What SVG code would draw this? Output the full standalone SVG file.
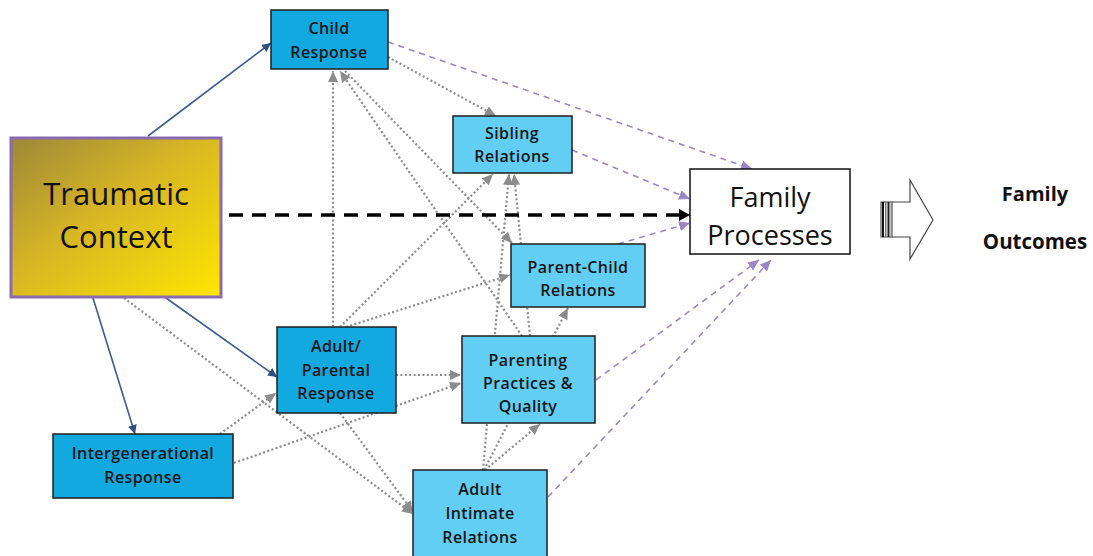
<svg xmlns="http://www.w3.org/2000/svg" width="1093" height="556" viewBox="0 0 1093 556">
<style>
.box{stroke:#1e1e1e;stroke-width:1.5}
.dark{fill:#12a8e0}
.light{fill:#62cef4}
.t{font-family:"Open Sans","Liberation Sans",sans-serif;font-size:16px;font-weight:600;letter-spacing:0.4px;fill:#151515;text-anchor:middle}
.big{font-family:"Open Sans","Liberation Sans",sans-serif;fill:#111;text-anchor:middle}
.dot{stroke:#8c8c8c;stroke-width:2.2;stroke-dasharray:2 2.4;fill:none}
.pur{stroke:#9d86c8;stroke-width:1.6;stroke-dasharray:6 5;fill:none}
.sol{stroke:#3c5d92;stroke-width:1.6;fill:none}
</style>
<defs>
<linearGradient id="gold" x1="0" y1="0" x2="1" y2="1">
<stop offset="0" stop-color="#9c8838"/>
<stop offset="0.45" stop-color="#d8b624"/>
<stop offset="1" stop-color="#ffe600"/>
</linearGradient>
<marker id="mg" markerUnits="userSpaceOnUse" markerWidth="12" markerHeight="10" refX="11" refY="5" orient="auto"><path d="M0,0 L11,5 L0,10 z" fill="#8c8c8c"/></marker>
<marker id="mp" markerUnits="userSpaceOnUse" markerWidth="12" markerHeight="10" refX="11" refY="5" orient="auto"><path d="M0,0 L11,5 L0,10 z" fill="#9d86c8"/></marker>
<marker id="mb" markerUnits="userSpaceOnUse" markerWidth="10" markerHeight="9" refX="9" refY="4.5" orient="auto"><path d="M0,0 L9,4.5 L0,9 z" fill="#2e4f86"/></marker>
<marker id="mk" markerUnits="userSpaceOnUse" markerWidth="12" markerHeight="12" refX="11" refY="6" orient="auto"><path d="M0,0 L11,6 L0,12 z" fill="#000"/></marker>
</defs>
<rect width="1093" height="556" fill="#fff"/>
<g id="connectors">
<line class="dot" x1="388" y1="57" x2="496" y2="116" marker-end="url(#mg)"/>
<line class="dot" x1="333" y1="327" x2="333" y2="71" marker-end="url(#mg)"/>
<line class="dot" x1="522" y1="336" x2="340" y2="71" marker-end="url(#mg)"/>
<line class="dot" x1="345" y1="71" x2="512" y2="243" marker-end="url(#mg)"/>
<line class="dot" x1="340" y1="327" x2="493" y2="174" marker-end="url(#mg)"/>
<line class="dot" x1="346" y1="327" x2="510" y2="275" marker-end="url(#mg)"/>
<line class="dot" x1="530" y1="336" x2="514" y2="174" marker-end="url(#mg)"/>
<line class="dot" x1="483" y1="470" x2="509" y2="174" marker-end="url(#mg)"/>
<line class="dot" x1="484" y1="470" x2="568" y2="308" marker-end="url(#mg)"/>
<line class="dot" x1="485" y1="470" x2="540" y2="424" marker-end="url(#mg)"/>
<line class="dot" x1="396" y1="375" x2="461" y2="375" marker-end="url(#mg)"/>
<line class="dot" x1="234" y1="463" x2="461" y2="383" marker-end="url(#mg)"/>
<line class="dot" x1="220" y1="434" x2="276" y2="393" marker-end="url(#mg)"/>
<line class="dot" x1="124" y1="298" x2="413" y2="514" marker-end="url(#mg)"/>
<line class="dot" x1="340" y1="413" x2="413" y2="512" marker-end="url(#mg)"/>
<line class="pur" x1="388" y1="42" x2="752" y2="169" marker-end="url(#mp)"/>
<line class="pur" x1="572" y1="150" x2="690" y2="199" marker-end="url(#mp)"/>
<line class="pur" x1="618" y1="244" x2="690" y2="223" marker-end="url(#mp)"/>
<line class="pur" x1="596" y1="380" x2="759" y2="260" marker-end="url(#mp)"/>
<line class="pur" x1="548" y1="497" x2="771" y2="260" marker-end="url(#mp)"/>
<line class="sol" x1="148" y1="136" x2="271" y2="43" marker-end="url(#mb)"/>
<line class="sol" x1="166" y1="298" x2="277" y2="377" marker-end="url(#mb)"/>
<line class="sol" x1="93" y1="298" x2="135" y2="434" marker-end="url(#mb)"/>
<line x1="229" y1="215" x2="690" y2="215" stroke="#000" stroke-width="3.5" stroke-dasharray="14 9" marker-end="url(#mk)"/>
</g>
<g id="traumatic-context">
<rect x="11" y="138" width="210" height="159" fill="url(#gold)" stroke="#8a6bb0" stroke-width="3"/>
<text class="big" font-size="31" x="116" y="205">Traumatic</text>
<text class="big" font-size="31" x="116" y="248">Context</text>
</g>
<g id="child-response">
<rect class="box dark" x="271" y="10" width="117" height="59"/>
<text class="t" x="329" y="34">Child</text>
<text class="t" x="329" y="58">Response</text>
</g>
<g id="sibling-relations">
<rect class="box light" x="453" y="116" width="119" height="57"/>
<text class="t" x="512" y="139">Sibling</text>
<text class="t" x="512" y="162">Relations</text>
</g>
<g id="parent-child-relations">
<rect class="box light" x="511" y="244" width="134" height="63"/>
<text class="t" x="578" y="273">Parent-Child</text>
<text class="t" x="578" y="296">Relations</text>
</g>
<g id="adult-parental-response">
<rect class="box dark" x="277" y="327" width="119" height="86"/>
<text class="t" x="336" y="352">Adult/</text>
<text class="t" x="336" y="376">Parental</text>
<text class="t" x="336" y="399">Response</text>
</g>
<g id="parenting-practices">
<rect class="box light" x="462" y="336" width="133" height="87"/>
<text class="t" x="528" y="366">Parenting</text>
<text class="t" x="528" y="389">Practices &amp;</text>
<text class="t" x="528" y="412">Quality</text>
</g>
<g id="intergenerational-response">
<rect class="box dark" x="53" y="434" width="180" height="64"/>
<text class="t" x="143" y="459">Intergenerational</text>
<text class="t" x="143" y="483">Response</text>
</g>
<g id="adult-intimate-relations">
<rect class="box light" x="413" y="470" width="134" height="90"/>
<text class="t" x="480" y="495">Adult</text>
<text class="t" x="480" y="519">Intimate</text>
<text class="t" x="480" y="543">Relations</text>
</g>
<g id="family-processes">
<rect x="690" y="169" width="160" height="85" fill="#fff" stroke="#111" stroke-width="1.5"/>
<text class="big" font-size="27" x="770" y="207">Family</text>
<text class="big" font-size="27" x="770" y="245">Processes</text>
</g>
<g id="outcome-arrow">
<path d="M892,202 L910,202 L910,180 L933,220 L910,259 L910,237 L892,237" fill="#fff" stroke="#444" stroke-width="1.2"/>
<rect x="881" y="202" width="11" height="35" fill="#fff" stroke="#333" stroke-width="1"/>
<rect x="882" y="202" width="2" height="35" fill="#111"/>
<rect x="885" y="202" width="1.5" height="35" fill="#777"/>
<rect x="887.5" y="202" width="2" height="35" fill="#222"/>
<rect x="890.5" y="202" width="1.5" height="35" fill="#888"/>
</g>
<g id="family-outcomes">
<text class="big" font-size="20" font-weight="bold" x="1035" y="201">Family</text>
<text class="big" font-size="20.5" font-weight="bold" x="1035" y="249">Outcomes</text>
</g>
</svg>
